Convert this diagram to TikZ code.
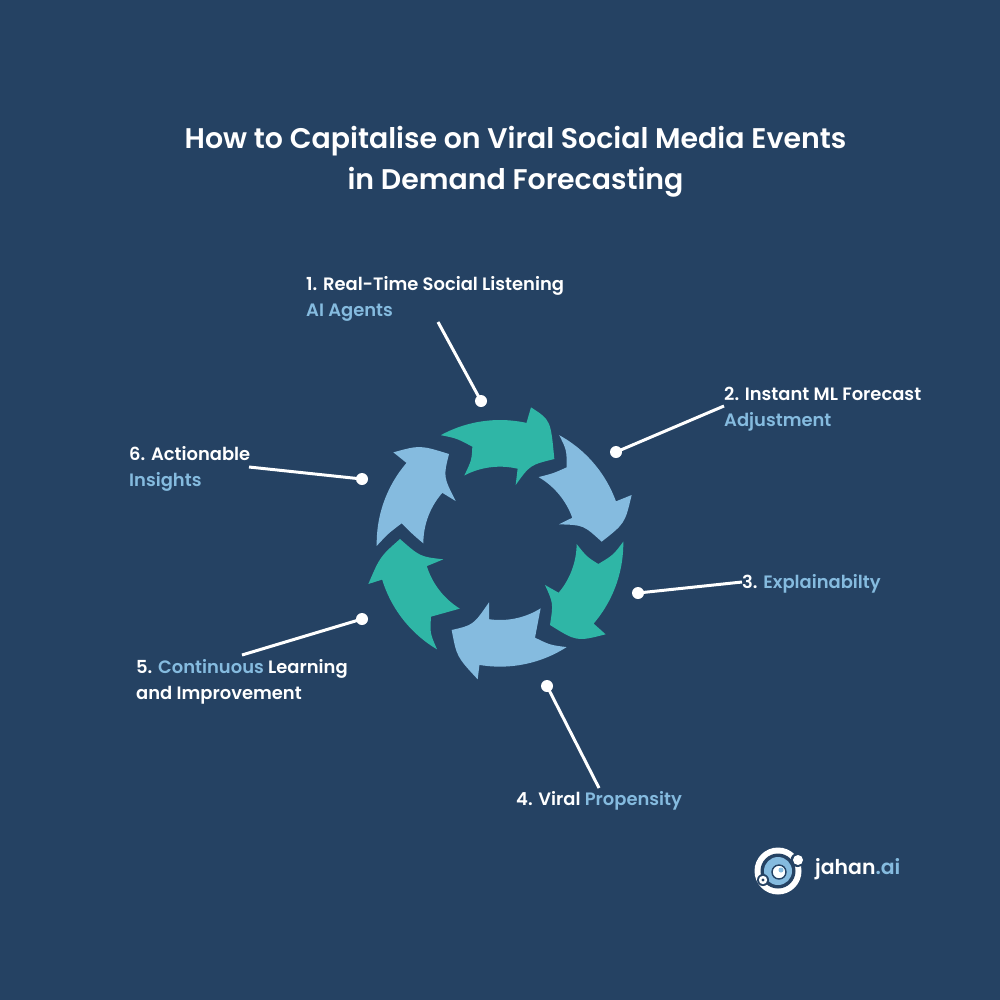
\documentclass[tikz,border=0pt]{standalone}
\usepackage{fontspec}
\setmainfont{Poppins}[BoldFont=Poppins SemiBold]
\definecolor{bg}{HTML}{254263}
\definecolor{grn}{HTML}{2FB6A6}
\definecolor{lblue}{HTML}{85BBDF}
\newcommand{\hl}[1]{\textcolor{lblue}{#1}}
\tikzset{
  lbl/.style={text=white,anchor=west,inner sep=0pt,align=left,font=\fontsize{18}{26}\selectfont\bfseries},
  ttl/.style={text=white,inner sep=0pt,align=center,font=\fontsize{28.5}{41}\selectfont\bfseries},
  dot/.style={circle,fill=white,inner sep=0pt,minimum size=12bp},
  lead/.style={draw=white,line width=3bp},
  ga/.style={fill=grn},
  ba/.style={fill=lblue},
  arcs/.style={domain=#1,samples=24,smooth}
}
\begin{document}
\begin{tikzpicture}[x=1bp,y=-1bp]
\useasboundingbox (0,0) rectangle (1000,1000);
\fill[bg] (0,0) rectangle (1000,1000);
\node[ttl] (title) at (515.5,161.5) {How to Capitalise on Viral Social Media Events\\in Demand Forecasting};
\begin{scope}[shift={(500,543.33)},x=0.3333bp,y=-0.3333bp]
\fill[ga] plot[arcs=-118.7:-77.6] (\x:370) -- (93,-408) .. controls (152,-370) .. (163,-253) .. controls (90,-235) .. (47,-175) -- plot[arcs=-76.7:-117.7] (\x:230) .. controls (-85,-250) .. (-83,-290) .. controls (-130,-315) .. cycle;
\fill[ba] plot[arcs=-61.3:-19.9] (\x:370) -- (395,-145) .. controls (375,-60) .. (305,-5) .. controls (250,-55) .. (177,-57) -- plot[arcs=-19.5:-59.8] (\x:230) .. controls (160,-210) .. (200,-228) .. controls (200,-280) .. cycle;
\fill[ga] plot[arcs=-0.8:40.6] (\x:370) -- (317,273) .. controls (230,295) .. (150,245) .. controls (160,180) .. (135,125) -- plot[arcs=40.1:0.5] (\x:230) .. controls (260,40) .. (295,62) .. controls (340,35) .. cycle;
\fill[ba] plot[arcs=57.3:99.6] (\x:370) -- (-67,408) .. controls (-130,340) .. (-145,260) .. controls (-80,245) .. (-33,177) -- plot[arcs=98.2:58] (\x:230) .. controls (115,240) .. (105,283) .. controls (150,305) .. cycle;
\fill[ga] plot[arcs=120.7:162.9] (\x:370) -- (-395,122) .. controls (-360,40) .. (-300,-13) .. controls (-240,40) .. (-170,48) -- plot[arcs=162.7:121.6] (\x:230) .. controls (-165,210) .. (-207,220) .. controls (-210,270) .. cycle;
\fill[ba] plot[arcs=178.8:220.7] (\x:370) -- (-320,-273) .. controls (-240,-295) .. (-153,-268) .. controls (-170,-200) .. (-133,-127) -- plot[arcs=221.2:180] (\x:230) .. controls (-260,-25) .. (-295,-60) .. controls (-335,-30) .. cycle;
\end{scope}
\node[lbl] (l1) at (306,299) {1. Real-Time Social Listening\\\hl{AI Agents}};
\node[lbl] (l2) at (724,409) {2. Instant ML Forecast\\\hl{Adjustment}};
\node[lbl] (l3) at (742,584) {3. \hl{Explainabilty}};
\node[lbl] (l4) at (516,801) {4. Viral \hl{Propensity}};
\node[lbl] (l5) at (136,682) {5. \hl{Continuous} Learning\\and Improvement};
\node[lbl] (l6) at (129,469) {6. Actionable\\\hl{Insights}};
\node[dot] (d1) at (481,401) {};
\node[dot] (d2) at (616,452) {};
\node[dot] (d3) at (638,593) {};
\node[dot] (d4) at (547,686) {};
\node[dot] (d5) at (362,619) {};
\node[dot] (d6) at (362,479) {};
\coordinate (e1) at (438,322);
\coordinate (e2) at (724,406);
\coordinate (e3) at (742,582);
\coordinate (e4) at (599,788);
\coordinate (e5) at (242,655);
\coordinate (e6) at (249,467);
\foreach \i in {1,...,6} \draw[lead] (e\i) -- (d\i.center);
% logo
\fill[white] (778,871) circle (23.5);
\fill[bg] (778,871) circle (17.5);
\fill[lblue] (778,871) circle (14);
\draw[bg,line width=1.4bp] (779,872) circle (7);
\fill[white] (779,872) circle (6);
\fill[lblue] (781,870) circle (2.5);
\fill[bg] (797.5,860) circle (7);
\fill[white] (798,860) circle (5);
\fill[bg] (763,880) circle (6);
\fill[white] (763,880) circle (4.2);
\fill[bg] (763,880) circle (1.6);
\node[text=white,anchor=west,inner sep=0pt,font=\fontsize{20.5}{24}\selectfont\bfseries] (brand) at (815,869) {jahan\hl{.ai}};
\end{tikzpicture}
\end{document}
